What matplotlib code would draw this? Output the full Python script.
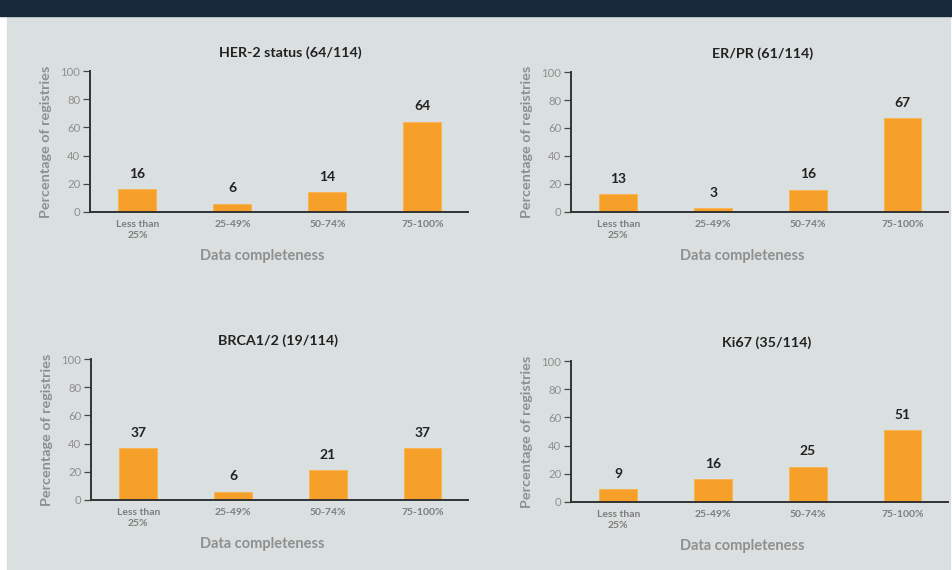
import matplotlib
matplotlib.use('Agg')
import matplotlib.pyplot as plt
import matplotlib.patches as mpatches
import numpy as np

plt.rcParams['font.family'] = ['Lato', 'DejaVu Sans']

# categories on the x axis
categories = ['Less than\n25%', '25-49%', '50-74%', '75-100%']

# panel titles and values (percentage of registries)
titles = ['HER-2 status (64/114)', 'ER/PR (61/114)', 'BRCA1/2 (19/114)', 'Ki67 (35/114)']
her2 = [16, 6, 14, 64]
erpr = [13, 3, 16, 67]
brca = [37, 6, 21, 37]
ki67 = [9, 16, 25, 51]
panel_values = [her2, erpr, brca, ki67]

bg = '#dae0e0'
navy = '#17293b'
bar_col = '#f6a02a'
grey_txt = '#8f8f8f'
dark_txt = '#222222'

fig = plt.figure(figsize=(9.53, 5.70), dpi=100, facecolor='white')

# page background and top banner
fig.add_artist(mpatches.Rectangle((7 / 953, 0), (950 - 7) / 953, 1 - 16 / 570,
                                  transform=fig.transFigure, color=bg, zorder=-10))
fig.add_artist(mpatches.Rectangle((0, 1 - 16 / 570), 1, 16 / 570,
                                  transform=fig.transFigure, color=navy, zorder=-10))

# axes boxes in pixels: left, y of 0, right, y of 100
boxes = [(90, 212, 468, 71), (571, 212, 948, 72), (91, 500, 468, 359), (571, 502, 948, 361)]
# small horizontal shift of each title, in pixels
title_dx = [11, 3, -2, 7]

x = np.arange(len(categories))
for (l, b, r, t), title, vals, dx in zip(boxes, titles, panel_values, title_dx):
    w = r - l
    ax = fig.add_axes([l / 953, 1 - b / 570, w / 953, (b - t) / 570])
    ax.set_facecolor('none')
    ax.bar(x, vals, width=0.4, color=bar_col, edgecolor='#f9b34f', linewidth=0.6, zorder=2)
    for xi, v in zip(x, vals):
        ax.annotate(str(v), (xi, v), xytext=(0, 11), textcoords='offset points',
                    ha='center', va='center', fontsize=10, fontweight='bold', color=dark_txt)
    ax.set_xlim(-0.5, 3.48)
    ax.set_ylim(0, 100)
    ax.set_yticks([0, 20, 40, 60, 80, 100])
    ax.set_xticks(x)
    ax.set_xticklabels(categories, fontsize=7.5, color='#7d7d7d', fontweight='bold',
                       linespacing=1.3)
    ax.tick_params(axis='x', length=0, pad=6)
    ax.tick_params(axis='y', length=5, width=0.9, color='#444444', labelsize=8.2,
                   labelcolor=grey_txt, pad=2)
    for s in ['top', 'right']:
        ax.spines[s].set_visible(False)
    for s in ['left', 'bottom']:
        ax.spines[s].set_color('#333333')
        ax.spines[s].set_linewidth(1.4)
    ax.set_title(title, fontsize=10.3, fontweight='bold', color=dark_txt, pad=10,
                 x=0.5 + dx / w)
    ax.set_ylabel('Percentage of registries', fontsize=10.4, fontweight='bold', color=grey_txt)
    ax.yaxis.set_label_coords(-0.10, 0.5)
    ax.set_xlabel('Data completeness', fontsize=10.5, fontweight='bold', color=grey_txt)
    ax.xaxis.set_label_coords(0.455, -0.265)

fig.savefig('out.png', dpi=100, facecolor='white')
